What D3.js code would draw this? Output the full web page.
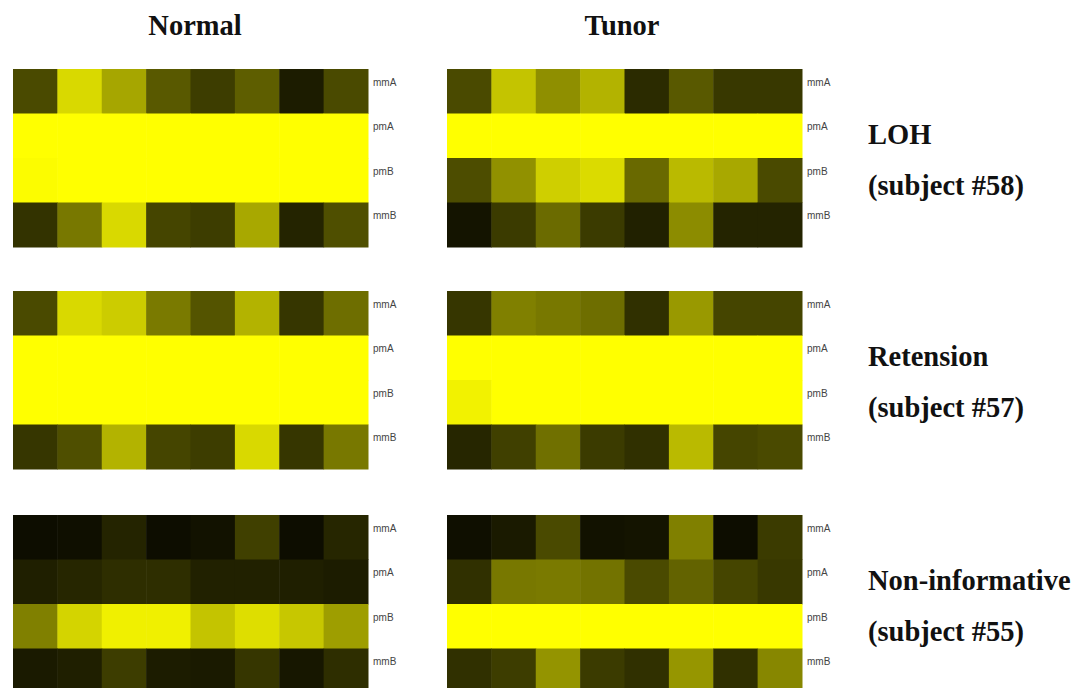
<!DOCTYPE html>
<html>
<head>
<meta charset="utf-8">
<script src="https://cdn.jsdelivr.net/npm/d3@7"></script>
<style>
  html, body { margin: 0; padding: 0; background: #fff; overflow: hidden; }
  svg { display: block; }
</style>
</head>
<body>
<svg id="chart"></svg>
<script>
// probe rows and the 8 samples
const rowLabels = ["mmA", "pmA", "pmB", "mmB"];
const samples = [1, 2, 3, 4, 5, 6, 7, 8];
const columnTitles = ["Normal", "Tunor"];
const caseTitles = ["LOH", "Retension", "Non-informative"];
const caseSubjects = ["(subject #58)", "(subject #57)", "(subject #55)"];

// intensities 0..1 (black -> yellow), one list per probe row
const normal58 = [
  [0.29, 0.85, 0.65, 0.35, 0.24, 0.37, 0.11, 0.29],
  [1, 1, 1, 1, 1, 1, 1, 1],
  [0.99, 1, 1, 1, 1, 1, 1, 1],
  [0.20, 0.47, 0.85, 0.27, 0.24, 0.66, 0.14, 0.31]
];
const tumor58 = [
  [0.29, 0.77, 0.56, 0.70, 0.17, 0.35, 0.22, 0.22],
  [1, 1, 1, 1, 1, 1, 1, 1],
  [0.30, 0.57, 0.81, 0.86, 0.41, 0.73, 0.66, 0.29],
  [0.08, 0.23, 0.42, 0.23, 0.13, 0.55, 0.14, 0.14]
];
const normal57 = [
  [0.29, 0.85, 0.80, 0.48, 0.33, 0.70, 0.21, 0.43],
  [1, 1, 1, 1, 1, 1, 1, 1],
  [1, 1, 1, 1, 1, 1, 1, 1],
  [0.21, 0.31, 0.70, 0.27, 0.24, 0.85, 0.21, 0.47]
];
const tumor57 = [
  [0.21, 0.50, 0.47, 0.43, 0.19, 0.60, 0.27, 0.27],
  [1, 1, 1, 1, 1, 1, 1, 1],
  [0.95, 1, 1, 1, 1, 1, 1, 1],
  [0.15, 0.25, 0.44, 0.23, 0.19, 0.73, 0.27, 0.29]
];
const normal55 = [
  [0.05, 0.06, 0.14, 0.05, 0.07, 0.25, 0.05, 0.15],
  [0.12, 0.15, 0.18, 0.18, 0.13, 0.13, 0.12, 0.11],
  [0.50, 0.83, 0.94, 0.94, 0.77, 0.87, 0.78, 0.62],
  [0.10, 0.12, 0.24, 0.11, 0.10, 0.21, 0.09, 0.18]
];
const tumor55 = [
  [0.06, 0.10, 0.29, 0.07, 0.08, 0.50, 0.05, 0.23],
  [0.19, 0.47, 0.48, 0.45, 0.29, 0.39, 0.27, 0.22],
  [1, 1, 1, 1, 1, 1, 1, 1],
  [0.19, 0.24, 0.58, 0.23, 0.19, 0.59, 0.19, 0.53]
];

const width = 1079, height = 688;
const svg = d3.select("#chart").attr("width", width).attr("height", height);

const panelW = 355, panelH = 178;
const colX = [13, 447];
const rowY = [69, 291, 515];
const titleX = [195, 622];
const serif = "'Liberation Serif', 'Times New Roman', serif";

const matrices = [
  [normal58, tumor58],
  [normal57, tumor57],
  [normal55, tumor55]
];

const color = d3.scaleLinear().domain([0, 1]).range(["#000000", "#ffff00"]);
const x = d3.scaleBand().domain(samples).range([0, panelW]);
const y = d3.scaleBand().domain(rowLabels).range([0, panelH]);

// column headers
svg.selectAll("text.col-title")
  .data(columnTitles)
  .enter().append("text")
  .attr("class", "col-title")
  .attr("x", (d, i) => titleX[i])
  .attr("y", 35)
  .attr("text-anchor", "middle")
  .attr("font-family", serif)
  .attr("font-weight", "bold")
  .attr("font-size", 28.5)
  .attr("fill", "#111")
  .text(d => d);

matrices.forEach(function(pair, r) {
  pair.forEach(function(mat, c) {
    const g = svg.append("g")
      .attr("transform", "translate(" + colX[c] + "," + rowY[r] + ")");

    const cells = [];
    mat.forEach((row, ri) => row.forEach((v, ci) => cells.push({ row: rowLabels[ri], s: samples[ci], v: v })));

    g.selectAll("rect")
      .data(cells)
      .enter().append("rect")
      .attr("x", d => x(d.s))
      .attr("y", d => y(d.row))
      .attr("width", x.bandwidth() + 0.5)
      .attr("height", y.bandwidth() + 0.5)
      .attr("fill", d => color(d.v));

    // probe labels to the right of each row
    g.selectAll("text")
      .data(rowLabels)
      .enter().append("text")
      .attr("x", panelW + 5)
      .attr("y", d => y(d) + 16.5)
      .attr("font-family", "Arial, 'Liberation Sans', sans-serif")
      .attr("font-size", 10)
      .attr("fill", "#444")
      .text(d => d);
  });

  // case description on the far right
  svg.append("text")
    .attr("x", 868)
    .attr("y", rowY[r] + 75)
    .attr("font-family", serif)
    .attr("font-weight", "bold")
    .attr("font-size", 28.5)
    .attr("fill", "#111")
    .text(caseTitles[r]);

  svg.append("text")
    .attr("x", 868)
    .attr("y", rowY[r] + 126)
    .attr("font-family", serif)
    .attr("font-weight", "bold")
    .attr("font-size", 28.5)
    .attr("fill", "#111")
    .text(caseSubjects[r]);
});
</script>
</body>
</html>
